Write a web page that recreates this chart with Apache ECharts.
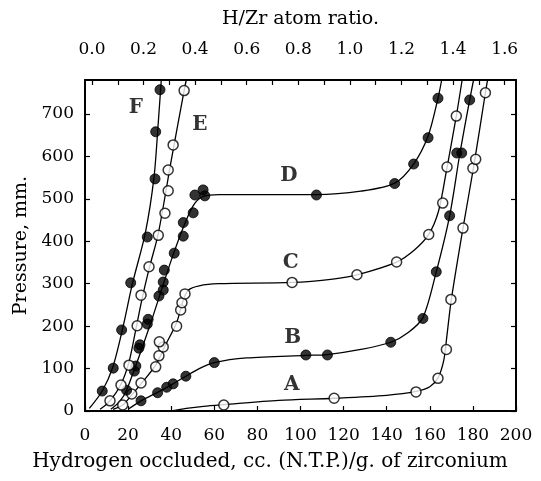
<!DOCTYPE html>
<html>
<head>
<meta charset="utf-8">
<script src="https://cdn.jsdelivr.net/npm/echarts@6/dist/echarts.min.js"></script>
<style>
html,body{margin:0;padding:0;background:#fff;}
#chart{width:541px;height:481px;}
</style>
</head>
<body>
<div id="chart"></div>
<script>
// ---- tick labels ----
const xTicks = [0,20,40,60,80,100,120,140,160,180,200];
const yTicks = [0,100,200,300,400,500,600,700];
const ratioTicks = [0.0,0.2,0.4,0.6,0.8,1.0,1.2,1.4,1.6];
const ratioMinorTicks = [0.0,0.1,0.2,0.3,0.4,0.5,0.6,0.7,0.8,0.9,1.0,1.1,1.2,1.3,1.4,1.5,1.6];

// ---- measured points (x = cc/g, y = mm) ----
const F_points = [[8.0,47],[13.1,101],[17.0,191],[21.2,302],[28.9,410],[32.5,547],[32.8,658],[34.8,757]];
const E_points = [[11.6,24],[16.7,61],[20.4,108],[24.2,201],[26.0,273],[29.7,340],[34.0,414],[37.1,466],[38.6,519],[38.6,568],[40.9,627],[46.0,755]];
const D_points = [[19.3,49],[22.9,94],[23.6,106],[25.0,148],[25.5,156],[28.9,205],[29.3,216],[34.3,271],[36.3,285],[36.3,304],[36.8,332],[41.4,372],[45.6,412],[45.6,444],[50.2,467],[51.0,509],[54.8,521],[55.6,507],[107.4,509],[143.7,536],[152.5,582],[159.2,644],[163.8,737]];
const C_points = [[17.5,14],[21.7,40],[26.0,66],[32.8,104],[34.3,130],[36.3,151],[34.5,163],[42.5,200],[44.4,238],[45.0,255],[46.4,276],[96.1,303],[126.2,321],[144.6,351],[159.5,416],[166.0,490],[168.0,575],[172.3,695]];
const B_points = [[26.0,24],[33.7,43],[37.9,56],[40.9,64],[46.8,82],[60.0,114],[102.5,132],[112.5,132],[141.9,162],[156.8,218],[163.0,328],[169.2,460],[172.5,608],[174.8,608],[178.5,733]];
const A_points = [[64.4,14],[115.6,30],[153.6,45],[163.8,77],[167.7,145],[169.8,263],[175.4,431],[180.0,572],[181.3,593],[185.8,750]];

// ---- drawn (fitted) curves ----
const F_curve = [[2,6],[8,47],[13,105],[17.5,195],[22,300],[28,420],[32,550],[34,680],[35.4,780]];
const E_curve = [[7,4],[11.6,24],[16.7,63],[20.4,115],[23.5,190],[26.5,265],[30,340],[34,418],[40,590],[46,755],[47,780]];
const D_curve = [[12,4],[16,22],[19.3,49],[30,200],[40,355],[47,450],[51,490],[55,506],[62,510],[107,510],[128,518],[143.7,537],[152.5,582],[159.2,648],[163.8,737],[165.5,780]];
const C_curve = [[13,4],[17.5,14],[21.7,38],[26,64],[32.8,108],[37,152],[42.5,208],[45.5,260],[48,285],[53,295],[62,300],[96,303],[115,311],[126.2,321],[144.6,351],[153,380],[159.5,416],[164,470],[167.5,560],[172.3,695],[175,780]];
const B_curve = [[20,4],[26,24],[33.7,44],[40.9,64],[46.8,82],[53,100],[60,114],[75,125],[102.5,131],[112.5,133],[128,145],[141.9,162],[150,185],[156.8,220],[163,328],[169.2,460],[174,608],[178.5,733],[180.3,780]];
const A_curve = [[40,0],[47,6],[55,11],[64.4,15],[90,25],[115.6,30],[140,37],[153.6,46],[160,57],[163.8,78],[166.5,120],[168,180],[170,263],[175.4,431],[180.5,580],[185.8,750],[186.8,780]];

// ---- curve labels ----
const labelNames = ['F','E','D','C','B','A'];
const labelX = [23.6,53.3,94.6,95.5,96.4,96.0];
const labelY = [714,674,554,349,172,61];

const curves = [
  {name:'A', pts:A_points, line:A_curve, filled:false},
  {name:'B', pts:B_points, line:B_curve, filled:true},
  {name:'C', pts:C_points, line:C_curve, filled:false},
  {name:'D', pts:D_points, line:D_curve, filled:true},
  {name:'E', pts:E_points, line:E_curve, filled:false},
  {name:'F', pts:F_points, line:F_curve, filled:true}
];

const FONT = 'DejaVu Serif';
const series = [];
curves.forEach(c => {
  series.push({
    type:'line', data:c.line, smooth:0.3, symbol:'none',
    lineStyle:{color:'#000', width:1.3}, z:2, silent:true, clip:true
  });
});
curves.forEach(c => {
  series.push({
    type:'scatter', data:c.pts, symbol:'circle', symbolSize:10,
    itemStyle: c.filled ? {color:'#000', borderColor:'#000', borderWidth:1}
                        : {color:'#fff', borderColor:'#000', borderWidth:1.5},
    z:3, silent:true
  });
});
series.push({
  type:'scatter', symbolSize:0, silent:true, z:4,
  data: labelNames.map((n,i)=>({name:n, value:[labelX[i],labelY[i]]})),
  label:{show:true, position:'inside', formatter:'{b}', color:'#000',
         fontFamily:FONT, fontWeight:'bold', fontSize:20}
});

const axisLineStyle = {color:'#000', width:2};
const chart = echarts.init(document.getElementById('chart'), null, {renderer:'canvas'});
chart.setOption({
  animation:false,
  backgroundColor:'#fff',
  title:[{
    text:'Hydrogen occluded, cc. (N.T.P.)/g. of zirconium',
    left:270, top:452, textAlign:'center', padding:0,
    textStyle:{color:'#000', fontFamily:FONT, fontSize:20, fontWeight:'normal'}
  }],
  grid:{left:85, right:25, top:80, bottom:70, containLabel:false},
  xAxis:[
    {type:'value', position:'bottom', min:0, max:200, interval:20,
     axisLine:{show:true, onZero:false, lineStyle:axisLineStyle},
     axisTick:{show:true, inside:true, length:5, lineStyle:{color:'#000', width:1.2}},
     axisLabel:{color:'#000', fontFamily:FONT, fontSize:17, margin:16, customValues:xTicks},
     splitLine:{show:false}},
    {type:'value', position:'top', min:-0.027, max:1.644,
     axisLine:{show:true, onZero:false, lineStyle:axisLineStyle},
     axisTick:{show:true, inside:true, length:5, customValues:ratioMinorTicks, lineStyle:{color:'#000', width:1.2}},
     axisLabel:{color:'#000', fontFamily:FONT, fontSize:17, margin:22, customValues:ratioTicks,
                formatter:v=>v.toFixed(1)},
     splitLine:{show:false},
     name:'H/Zr atom ratio.', nameLocation:'middle', nameGap:51,
     nameTextStyle:{color:'#000', fontFamily:FONT, fontSize:19}}
  ],
  yAxis:[
    {type:'value', position:'left', min:0, max:780, interval:100,
     axisLine:{show:true, onZero:false, lineStyle:axisLineStyle},
     axisTick:{show:true, inside:true, length:5, customValues:yTicks, lineStyle:{color:'#000', width:1.2}},
     axisLabel:{color:'#000', fontFamily:FONT, fontSize:17, margin:11, customValues:yTicks},
     splitLine:{show:false},
     name:'Pressure, mm.', nameLocation:'middle', nameGap:52, nameRotate:90,
     nameTextStyle:{color:'#000', fontFamily:FONT, fontSize:19}},
    {type:'value', position:'right', min:0, max:780, interval:100,
     axisLine:{show:true, onZero:false, lineStyle:axisLineStyle},
     axisTick:{show:true, inside:true, length:5, customValues:yTicks, lineStyle:{color:'#000', width:1.2}},
     axisLabel:{show:false}, splitLine:{show:false}}
  ],
  series: series
});
</script>
</body>
</html>
